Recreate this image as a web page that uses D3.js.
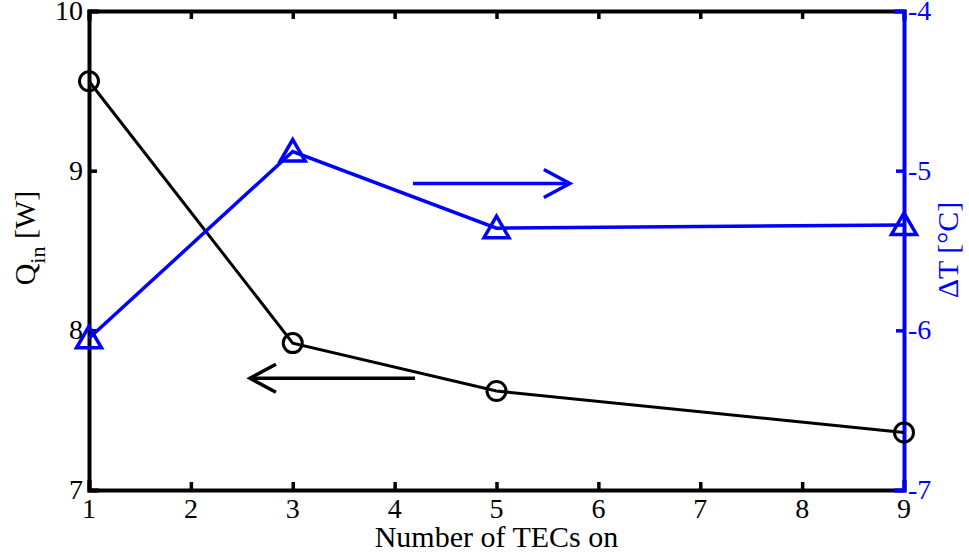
<!DOCTYPE html>
<html>
<head>
<meta charset="utf-8">
<script src="https://cdn.jsdelivr.net/npm/d3@7"></script>
<style>
  html, body { margin: 0; padding: 0; background: #fff; }
  svg { display: block; }
</style>
</head>
<body>
<svg id="chart" width="969" height="556"></svg>
<script>
// Number of TECs switched on
const tecsOn = [1, 3, 5, 9];
// Heat input Q_in [W] (left axis)
const qIn = [9.56, 7.92, 7.62, 7.36];
// Temperature difference ΔT [°C] (right axis)
const deltaT = [-6.05, -4.88, -5.36, -5.34];

const xTicks = [1, 2, 3, 4, 5, 6, 7, 8, 9];
const leftTicks = [7, 8, 9, 10];
const rightTicks = [-7, -6, -5, -4];

// Direction arrows: which axis each curve belongs to
const arrowBlue = { x0: 4.18, x1: 5.72, y: -5.08 };  // ΔT curve -> right axis
const arrowBlack = { x0: 4.20, x1: 2.58, y: 7.70 };  // Q_in curve -> left axis

const BLUE = "#0000ff";
const BLACK = "#000000";
const FONT = "'Liberation Serif', 'Times New Roman', 'DejaVu Serif', serif";

const svg = d3.select("#chart");
const plotL = 89, plotR = 904, plotT = 11, plotB = 490;

const x = d3.scaleLinear().domain([1, 9]).range([plotL, plotR]);
const yL = d3.scaleLinear().domain([7, 10]).range([plotB, plotT]);
const yR = d3.scaleLinear().domain([-7, -4]).range([plotB, plotT]);

const tickLen = 8;
const tickFont = 28;
const labelFont = 30;

// Bottom axis (ticks inward)
const gB = svg.append("g").attr("transform", `translate(0,${plotB})`)
  .call(d3.axisTop(x).tickValues(xTicks).tickSize(tickLen).tickFormat(""));
// Top axis
const gT = svg.append("g").attr("transform", `translate(0,${plotT})`)
  .call(d3.axisBottom(x).tickValues(xTicks).tickSize(tickLen).tickFormat(""));
// Left axis
const gL = svg.append("g").attr("transform", `translate(${plotL},0)`)
  .call(d3.axisRight(yL).tickValues(leftTicks).tickSize(tickLen).tickFormat(""));
// Right axis (blue)
const gR = svg.append("g").attr("transform", `translate(${plotR},0)`)
  .call(d3.axisLeft(yR).tickValues(rightTicks).tickSize(tickLen).tickFormat(""));

[gB, gT, gL].forEach(g => {
  g.select(".domain").attr("stroke", BLACK).attr("stroke-width", 4);
  g.selectAll(".tick line").attr("stroke", BLACK).attr("stroke-width", 3.5);
});
gR.select(".domain").attr("stroke", BLUE).attr("stroke-width", 4);
gR.selectAll(".tick line").attr("stroke", BLUE).attr("stroke-width", 3.5);
[gB, gT, gL, gR].forEach(g => g.select(".domain").attr("stroke-linecap", "square"));

// Tick labels
svg.append("g").selectAll("text").data(xTicks).join("text")
  .attr("x", d => x(d)).attr("y", plotB + 28)
  .attr("text-anchor", "middle").attr("font-family", FONT)
  .attr("font-size", tickFont).attr("fill", BLACK)
  .text(d => d);
svg.append("g").selectAll("text").data(leftTicks).join("text")
  .attr("x", plotL - 6).attr("y", d => yL(d) + 9)
  .attr("text-anchor", "end").attr("font-family", FONT)
  .attr("font-size", tickFont).attr("fill", BLACK)
  .text(d => d);
svg.append("g").selectAll("text").data(rightTicks).join("text")
  .attr("x", plotR + 4).attr("y", d => yR(d) + 9)
  .attr("text-anchor", "start").attr("font-family", FONT)
  .attr("font-size", tickFont).attr("fill", BLUE)
  .text(d => d);

// Axis titles
svg.append("text")
  .attr("x", (plotL + plotR) / 2).attr("y", 547)
  .attr("text-anchor", "middle").attr("font-family", FONT)
  .attr("font-size", labelFont).attr("fill", BLACK)
  .text("Number of TECs on");

const qLabel = svg.append("text")
  .attr("transform", `translate(35,238) rotate(-90)`)
  .attr("text-anchor", "middle").attr("font-family", FONT)
  .attr("font-size", labelFont).attr("fill", BLACK);
qLabel.append("tspan").text("Q");
qLabel.append("tspan").attr("font-size", 22).attr("dy", 10).text("in");
qLabel.append("tspan").attr("dy", -10).text(" [W]");

svg.append("text")
  .attr("transform", `translate(958,250) rotate(-90)`)
  .attr("text-anchor", "middle").attr("font-family", FONT)
  .attr("font-size", labelFont).attr("fill", BLUE)
  .text("ΔT [°C]");

// Q_in curve with circle markers
const pts = tecsOn.map((t, i) => ({ t, q: qIn[i], dt: deltaT[i] }));
svg.append("path").datum(pts)
  .attr("fill", "none").attr("stroke", BLACK).attr("stroke-width", 3)
  .attr("d", d3.line().x(d => x(d.t)).y(d => yL(d.q)));
svg.append("g").selectAll("circle").data(pts).join("circle")
  .attr("cx", d => x(d.t)).attr("cy", d => yL(d.q)).attr("r", 9.5)
  .attr("fill", "none").attr("stroke", BLACK).attr("stroke-width", 3);

// ΔT curve with triangle markers
svg.append("path").datum(pts)
  .attr("fill", "none").attr("stroke", BLUE).attr("stroke-width", 3.5)
  .attr("d", d3.line().x(d => x(d.t)).y(d => yR(d.dt)));
svg.append("g").selectAll("path").data(pts).join("path")
  .attr("transform", d => `translate(${x(d.t)},${yR(d.dt)})`)
  .attr("d", "M0,-12 L12.5,9.5 L-12.5,9.5 Z")
  .attr("fill", "none").attr("stroke", BLUE).attr("stroke-width", 3.5)
  .attr("stroke-linejoin", "miter");

// Arrows
function arrow(a, yScale, color) {
  const x0 = x(a.x0), x1 = x(a.x1), yy = yScale(a.y);
  const dir = Math.sign(x1 - x0);
  const g = svg.append("g").attr("stroke", color).attr("stroke-width", 3.5).attr("fill", "none");
  g.append("line").attr("x1", x0).attr("y1", yy).attr("x2", x1).attr("y2", yy);
  g.append("path").attr("d",
    `M${x1 - dir * 26},${yy - 14} L${x1},${yy} L${x1 - dir * 26},${yy + 14}`);
}
arrow(arrowBlue, yR, BLUE);
arrow(arrowBlack, yL, BLACK);
</script>
</body>
</html>
